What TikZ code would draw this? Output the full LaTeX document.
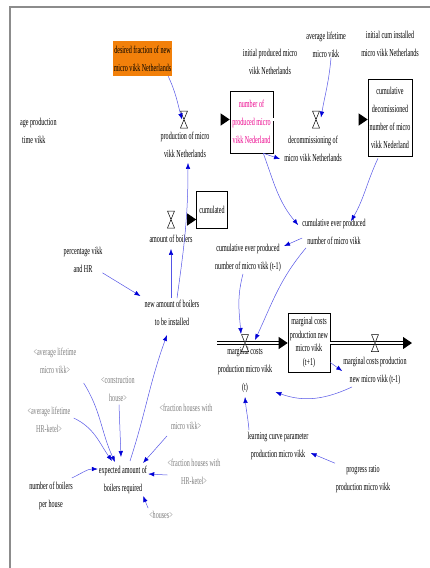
\documentclass[tikz,border=0pt]{standalone}
\usepackage{fontspec}
\setmainfont{Liberation Serif}[FakeStretch=0.58]
\usetikzlibrary{calc,arrows.meta}
\definecolor{stockorange}{RGB}{242,128,10}
\definecolor{linkblue}{RGB}{85,85,230}
\definecolor{tipblue}{RGB}{0,0,215}
\definecolor{shadowgray}{RGB}{125,125,125}
\definecolor{framegray}{RGB}{140,140,140}
\def\valve(#1){\draw[fill=white, line width=0.5pt] ($(#1)+(-3.5,8.5)$) -- ($(#1)+(3.5,8.5)$) -- ($(#1)+(-3.5,-8.5)$) -- ($(#1)+(3.5,-8.5)$) -- cycle;}
\tikzset{
  lbl/.style={align=center, inner sep=0pt, font=\fontsize{10.5}{18}\selectfont},
  shadowlbl/.style={lbl, text=shadowgray},
  stock/.style={draw, line width=0.6pt, fill=white, align=center, inner sep=0pt, font=\fontsize{10.5}{18}\selectfont},
  link/.style={draw=linkblue, line width=0.5pt, -{Latex[length=6pt,width=4.5pt,color=tipblue]}},
  pipe/.style={double, double distance=2.5pt, line width=0.7pt},
  flowtip/.style={line width=1pt, -{Triangle[length=9pt,width=12pt]}}
}

\begin{document}
\begin{tikzpicture}[x=1pt,y=1pt]
				\useasboundingbox (0,0) rectangle (430,-568);
				\draw[framegray, line width=2pt] (10,-568) -- (10,-7) -- (430,-7);
				
				\node[lbl, fill=stockorange, minimum width=59pt, minimum height=35pt] (desired) at (142.5,-58.5) {desired fraction of new\\micro vikk Netherlands};
				\node[lbl, anchor=west, align=left] (avgprod) at (20,-131) {age production\\\hspace*{2pt}time vikk};
				\node[lbl] (initprod) at (270,-62) {initial produced micro\\vikk Netherlands};
				\node[lbl] (avglife) at (326,-45) {average lifetime\\micro vikk};
				\node[lbl] (initcum) at (390,-44) {initial cum installed\\micro vikk Netherlands};
				
				\node[stock, text=magenta, minimum width=43pt, minimum height=62pt] (prodstock) at (251.5,-122) {number of\\produced micro\\vikk Nederland};
				\node[stock, minimum width=44pt, minimum height=77pt] (decomstock) at (390,-117.5) {cumulative\\decomissioned\\number of micro\\vikk Nederland};
				\node[stock, minimum width=31pt, minimum height=37pt] (cumstock) at (212,-209.5) {cumulated};
				\node[stock, font=\fontsize{10.5}{13.5}\selectfont, minimum width=42pt, minimum height=59pt] (margstock) at (309,-342.5) {marginal costs\\production new\\micro vikk\\(t+1)};
				
				\coordinate (prodsrc) at (153,-119.5);
				\coordinate (vprod) at (184,-119.5);
				\coordinate (vdecom) at (316,-119.5);
				\coordinate (boilsrc) at (147,-219.5);
				\coordinate (vboil) at (171,-219.5);
				\coordinate (margsrc) at (217,-343);
				\coordinate (vmarg) at (245,-343);
				\coordinate (vmprev) at (375,-343);
				\coordinate (margsink) at (412,-343);
				
				\node[lbl] (prodlbl) at (185,-145) {production of micro\\vikk Netherlands};
				\node[lbl] (decomlbl) at (313,-149) {decommissioning of\\micro vikk Netherlands};
				\node[lbl] (boillbl) at (171,-239) {amount of boilers};
				\node[lbl] (cumever) at (334,-232) {cumulative ever produced\\number of micro vikk};
				\node[lbl] (cumprev) at (248,-258) {cumulative ever produced\\number of micro vikk (t-1)};
				\node[lbl] (percent) at (83,-260) {percentage vikk\\and HR};
				\node[lbl] (newamt) at (172,-313) {new amount of boilers\\to be installed};
				\node[lbl] (marglbl) at (245,-370) {marginal costs\\production micro vikk\\(t)};
				\node[lbl] (mprevlbl) at (375,-371) {marginal costs production\\new micro vikk (t-1)};
				\node[lbl] (learn) at (278,-446) {learning curve parameter\\production micro vikk};
				\node[lbl] (progress) at (363,-479) {progress ratio\\production micro vikk};
				
				\node[shadowlbl] (avgmicro) at (55,-361) {<average lifetime\\micro vikk>};
				\node[shadowlbl] (constr) at (118,-389) {<construction\\house>};
				\node[shadowlbl] (avghr) at (49,-420) {<average lifetime\\HR-ketel>};
				\node[shadowlbl] (fracmicro) at (186,-417) {<fraction houses with\\micro vikk>};
				\node[shadowlbl] (frachr) at (194,-472) {<fraction houses with\\HR-ketel>};
				\node[shadowlbl] (houses) at (161,-515) {<houses>};
				\node[lbl] (expected) at (123,-480) {expected amount of\\boilers required};
				\node[lbl] (boilers) at (51,-496) {number of boilers\\per house};
				
				\draw[pipe] (prodsrc) -- ($(prodstock.west |- vprod)+(-8,0)$);
				\draw[flowtip] ($(prodstock.west |- vprod)+(-9,0)$) -- (prodstock.west |- vprod);
				\draw[pipe] (prodstock.east |- vdecom) -- ($(decomstock.west |- vdecom)+(-8,0)$);
				\draw[flowtip] ($(decomstock.west |- vdecom)+(-9,0)$) -- (decomstock.west |- vdecom);
				\draw[pipe] (boilsrc) -- ($(cumstock.west |- vboil)+(-8,0)$);
				\draw[flowtip] ($(cumstock.west |- vboil)+(-9,0)$) -- (cumstock.west |- vboil);
				\draw[pipe] (margsrc) -- ($(margstock.west |- vmarg)+(-8,0)$);
				\draw[flowtip] ($(margstock.west |- vmarg)+(-9,0)$) -- (margstock.west |- vmarg);
				\draw[pipe] (margstock.east |- vmprev) -- ($(margsink)+(-8,0)$);
				\draw[flowtip] ($(margsink)+(-9,0)$) -- (margsink);
				\valve(vprod)
				\valve(vdecom)
				\valve(vboil)
				\valve(vmarg)
				\valve(vmprev)
				
				\draw[link] ([xshift=-4pt]desired.south east) to[out=-65,in=105] ($(vprod)+(-2,0)$);
				\draw[link] ([xshift=5pt]avglife.south) to[out=-95,in=80] ($(vdecom)+(5,2)$);
				\draw[link] ([xshift=-10pt]prodstock.south east) -- ([xshift=-4pt,yshift=-10pt]decomlbl.west);
				\draw[link] ([xshift=-10pt]prodstock.south east) to[out=-70,in=130] ([xshift=-4pt,yshift=-6pt]cumever.north west);
				\draw[link] ([xshift=-12pt,yshift=-2pt]decomstock.south) to[out=-115,in=60] ([xshift=17pt,yshift=-2pt]cumever.north);
				\draw[link] ([yshift=-6pt]cumever.west) -- ([xshift=3pt,yshift=-2pt]cumprev.north east);
				\draw[link] ([xshift=-28pt,yshift=-3pt]cumever.south) to[out=-130,in=65] ($(vmarg)+(10,3)$);
				\draw[link] ([xshift=-5pt,yshift=-2pt]cumprev.south) to[out=-105,in=95] ($(vmarg)+(-4,9)$);
				\draw[link] ([yshift=-20pt]margstock.east) -- ([xshift=-1pt]mprevlbl.west);
				\draw[link] ([xshift=-23pt,yshift=-2pt]mprevlbl.south) to[out=-155,in=-20] ([xshift=3pt,yshift=-22pt]marglbl.east);
				\draw[link] ([xshift=-29pt,yshift=2pt]learn.north) to[out=95,in=-85] ([yshift=-4pt]marglbl.south);
				\draw[link] ([xshift=-28pt,yshift=2pt]progress.north) -- ([xshift=2pt,yshift=-7pt]learn.east);
				
				\draw[link] (percent.south east) -- ([xshift=-4pt,yshift=4pt]newamt.north west);
				\draw[link] ([xshift=-1pt,yshift=2pt]newamt.north) -- ([yshift=-6pt]boillbl.south);
				\draw[link] ([xshift=5pt,yshift=2pt]newamt.north) to[out=82,in=-90] ([xshift=3pt,yshift=-5pt]prodlbl.south);
				\draw[link] ([xshift=7pt,yshift=5pt]expected.north) to[out=72,in=-110] ([xshift=-5pt,yshift=-9pt]newamt.south);
				\draw[link] ([xshift=7pt,yshift=-9pt]avgmicro.south east) to[out=-58,in=115] ([xshift=-8pt,yshift=4pt]expected.north);
				\draw[link] ([xshift=3pt,yshift=2pt]avghr.east) to[out=-25,in=125] ([xshift=-11pt,yshift=5pt]expected.north);
				\draw[link] ([xshift=1pt,yshift=-3pt]constr.south) -- ([xshift=-2pt,yshift=9pt]expected.north);
				\draw[link] ([xshift=-19pt,yshift=-6pt]fracmicro.south) -- ([xshift=20pt,yshift=3pt]expected.north);
				\draw[link] ([yshift=-3pt]frachr.west) -- ([xshift=1pt,yshift=6pt]expected.east);
				\draw[link] ([xshift=-1pt,yshift=3pt]houses.north west) -- ([xshift=-4pt,yshift=-2pt]expected.south east);
				\draw[link] ([xshift=-1pt,yshift=4pt]boilers.north east) to[out=25,in=180] ([xshift=-1pt,yshift=11pt]expected.west);
\end{tikzpicture}
\end{document}
